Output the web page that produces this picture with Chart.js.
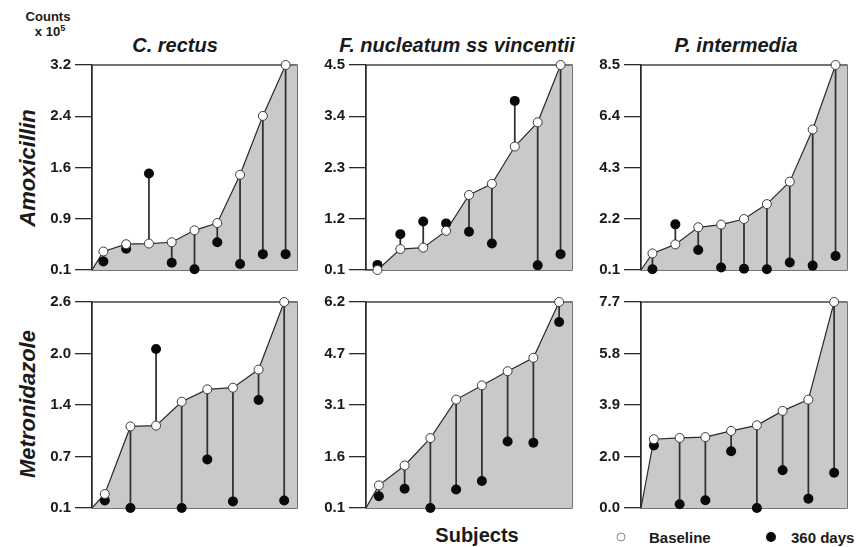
<!DOCTYPE html>
<html>
<head>
<meta charset="utf-8">
<script src="https://cdn.jsdelivr.net/npm/chart.js@4/dist/chart.umd.min.js"></script>
<style>
  html, body { margin: 0; padding: 0; background: #fff; }
  #wrap { position: relative; width: 856px; height: 547px; background: #fff; overflow: hidden;
          font-family: 'Liberation Sans', Arial, Helvetica, sans-serif; color: #1a1a1a; }
  #wrap canvas { position: absolute; }
  .txt { position: absolute; white-space: nowrap; font-weight: bold; line-height: 1; }
  .title { font-size: 20px; font-style: italic; transform: translate(-50%, -50%); }
  .rowTitle { font-size: 22px; font-style: italic; transform: translate(-50%, -50%) rotate(-90deg); }
  .units { font-size: 13px; transform: translate(-50%, -50%); }
  .units sup { font-size: 9px; vertical-align: 5px; }
  .dot { position: absolute; border-radius: 50%; box-sizing: border-box; transform: translate(-50%, -50%); }
</style>
</head>
<body>
<div id="wrap">
  <div class="txt units" style="left:48px; top:16px;">Counts</div>
  <div class="txt units" style="left:50px; top:31px;">x 10<sup>5</sup></div>

  <div class="txt title" id="t0" style="left:175px; top:45px;"></div>
  <div class="txt title" id="t1" style="left:457px; top:45px;"></div>
  <div class="txt title" id="t2" style="left:736px; top:45px;"></div>

  <div class="txt rowTitle" id="r0" style="left:28px; top:168px;"></div>
  <div class="txt rowTitle" id="r1" style="left:28px; top:404px;"></div>

  <div class="txt" style="left:477px; top:535px; font-size:20px; transform:translate(-50%,-50%);">Subjects</div>

  <div class="dot" style="left:621px; top:537px; width:9px; height:9px; border:1.2px solid #8a8a8a; background:#fff;"></div>
  <div class="txt" style="left:649px; top:537px; font-size:15px; transform:translateY(-50%);">Baseline</div>
  <div class="dot" style="left:771px; top:537px; width:10px; height:10px; background:#0a0a0a;"></div>
  <div class="txt" style="left:791px; top:537px; font-size:15px; transform:translateY(-50%);">360 days</div>
</div>

<script>
// Column and row headings
const organisms = ['C. rectus', 'F. nucleatum ss vincentii', 'P. intermedia'];
const treatments = ['Amoxicillin', 'Metronidazole'];

// Counts (x 10^5) per subject, subjects ordered by baseline count
const amoxCrectusBaseline = [0.38, 0.49, 0.50, 0.52, 0.70, 0.81, 1.54, 2.43, 3.2];
const amoxCrectus360      = [0.23, 0.42, 1.56, 0.21, 0.11, 0.52, 0.19, 0.34, 0.34];
const amoxCrectusTicks    = ['0.1', '0.9', '1.6', '2.4', '3.2'];

const amoxFnucBaseline = [0.10, 0.55, 0.58, 0.94, 1.71, 1.95, 2.75, 3.27, 4.5];
const amoxFnuc360      = [0.21, 0.87, 1.14, 1.10, 0.92, 0.67, 3.73, 0.20, 0.44];
const amoxFnucTicks    = ['0.1', '1.2', '2.3', '3.4', '4.5'];

const amoxPintBaseline = [0.78, 1.15, 1.85, 1.96, 2.19, 2.80, 3.72, 5.86, 8.5];
const amoxPint360      = [0.13, 1.97, 0.92, 0.20, 0.15, 0.13, 0.41, 0.28, 0.67];
const amoxPintTicks    = ['0.1', '2.2', '4.3', '6.4', '8.5'];

const metroCrectusBaseline = [0.27, 1.09, 1.10, 1.39, 1.54, 1.56, 1.78, 2.6];
const metroCrectus360      = [0.19, 0.10, 2.03, 0.10, 0.69, 0.18, 1.41, 0.19];
const metroCrectusTicks    = ['0.1', '0.7', '1.4', '2.0', '2.6'];

const metroFnucBaseline = [0.77, 1.36, 2.17, 3.31, 3.73, 4.15, 4.55, 6.2];
const metroFnuc360      = [0.45, 0.67, 0.10, 0.65, 0.90, 2.07, 2.03, 5.61];
const metroFnucTicks    = ['0.1', '1.6', '3.1', '4.7', '6.2'];

const metroPintBaseline = [2.57, 2.62, 2.65, 2.88, 3.09, 3.63, 4.05, 7.7];
const metroPint360      = [2.34, 0.14, 0.29, 2.12, 0.00, 1.41, 0.35, 1.32];
const metroPintTicks    = ['0.0', '2.0', '3.9', '5.8', '7.7'];

organisms.forEach((name, i) => { document.getElementById('t' + i).textContent = name; });
treatments.forEach((name, i) => { document.getElementById('r' + i).textContent = name; });

// Layout of the 2 x 3 grid (plot-area boxes, in page pixels)
const colLeft = [92, 366, 641];
const colWidth = [205, 206, 206];
const rowTop = [65, 302];
const rowHeight = [205, 206];
const AXIS_W = 75, PAD = 14;

const FONT = "'Liberation Sans', Arial, Helvetica, sans-serif";
const INK = '#2a2a2a';

// Box around each plot area
const framePlugin = {
  id: 'frame',
  beforeDatasetsDraw(chart) {
    const a = chart.chartArea, ctx = chart.ctx;
    ctx.save();
    ctx.strokeStyle = INK;
    ctx.lineWidth = 1.3;
    ctx.strokeRect(a.left, a.top, a.right - a.left, a.bottom - a.top);
    ctx.restore();
  }
};

function makePanel(row, col, baseline, day360, tickLabels) {
  const wrap = document.getElementById('wrap');
  const cv = document.createElement('canvas');
  const w = AXIS_W + colWidth[col] + PAD;
  const h = rowHeight[row] + 2 * PAD;
  cv.width = w; cv.height = h;
  cv.style.left = (colLeft[col] - AXIS_W) + 'px';
  cv.style.top = (rowTop[row] - PAD) + 'px';
  cv.style.width = w + 'px'; cv.style.height = h + 'px';
  wrap.appendChild(cv);

  const yMin = parseFloat(tickLabels[0]);
  const yMax = parseFloat(tickLabels[tickLabels.length - 1]);
  const n = baseline.length;

  const basePts = baseline.map((v, i) => ({ x: i + 1, y: v }));
  const areaPts = [{ x: 0.5, y: yMin }, ...basePts, { x: n + 0.5, y: baseline[n - 1] }];
  const laterPts = day360.map((v, i) => ({ x: i + 1, y: v }));
  const stemPts = baseline.map((v, i) => ({ x: i + 1, y: [Math.min(v, day360[i]), Math.max(v, day360[i])] }));

  new Chart(cv, {
    type: 'line',
    data: {
      datasets: [
        { type: 'scatter', data: basePts, order: 0, pointRadius: 4.5, pointHoverRadius: 4.5,
          pointBackgroundColor: '#ffffff', pointBorderColor: '#3a3a3a', pointBorderWidth: 1, clip: false },
        { type: 'scatter', data: laterPts, order: 1, pointRadius: 5, pointHoverRadius: 5,
          pointBackgroundColor: '#0a0a0a', pointBorderColor: '#0a0a0a', pointBorderWidth: 0, clip: false },
        { type: 'bar', data: stemPts, order: 2, barThickness: 1.1, backgroundColor: '#303030',
          borderWidth: 0, grouped: false },
        { type: 'line', data: areaPts, order: 3, fill: 'start', backgroundColor: '#c9c9c9',
          borderColor: INK, borderWidth: 1.2, pointRadius: 0, tension: 0 }
      ]
    },
    options: {
      responsive: false,
      animation: false,
      events: [],
      layout: { padding: { left: 0, right: PAD, top: PAD, bottom: PAD } },
      plugins: { legend: { display: false }, tooltip: { enabled: false } },
      scales: {
        x: { type: 'linear', min: 0.5, max: n + 0.5, offset: false, grid: { offset: false }, display: false },
        y: {
          type: 'linear', min: yMin, max: yMax, beginAtZero: false,
          afterFit(scale) { scale.width = AXIS_W; },
          afterBuildTicks(scale) {
            scale.ticks = tickLabels.map((_, i) => ({ value: yMin + i * (yMax - yMin) / (tickLabels.length - 1) }));
          },
          ticks: {
            autoSkip: false, padding: 4, color: '#1a1a1a',
            font: { family: FONT, size: 15, weight: 'bold' },
            callback: (value, index) => tickLabels[index]
          },
          grid: { drawOnChartArea: false, drawTicks: true, tickLength: 17, color: INK, lineWidth: 1.3 },
          border: { display: true, color: INK, width: 1.3 }
        }
      }
    },
    plugins: [framePlugin]
  });
}

makePanel(0, 0, amoxCrectusBaseline, amoxCrectus360, amoxCrectusTicks);
makePanel(0, 1, amoxFnucBaseline, amoxFnuc360, amoxFnucTicks);
makePanel(0, 2, amoxPintBaseline, amoxPint360, amoxPintTicks);
makePanel(1, 0, metroCrectusBaseline, metroCrectus360, metroCrectusTicks);
makePanel(1, 1, metroFnucBaseline, metroFnuc360, metroFnucTicks);
makePanel(1, 2, metroPintBaseline, metroPint360, metroPintTicks);
</script>
</body>
</html>
